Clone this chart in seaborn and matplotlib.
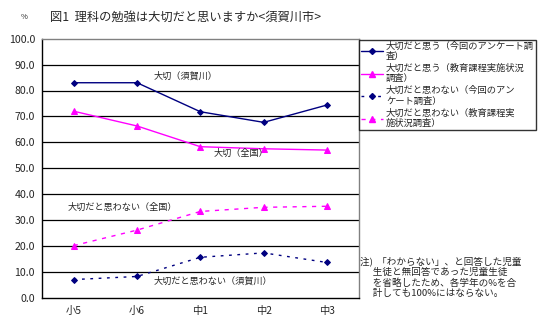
import matplotlib
matplotlib.use("Agg")
import matplotlib.pyplot as plt
import seaborn as sns
import pandas as pd
from matplotlib.lines import Line2D

sns.set_theme(style="white")
plt.rcParams['font.family'] = ['Noto Sans CJK JP', 'DejaVu Sans']

grades = ["小5", "小6", "中1", "中2", "中3"]
important_local = [83.0, 83.0, 71.8, 67.7, 74.4]
important_national = [72.0, 66.3, 58.3, 57.5, 57.0]
not_important_local = [7.0, 8.2, 15.6, 17.3, 13.6]
not_important_national = [20.1, 26.1, 33.3, 34.9, 35.3]

series_names = [
    "大切だと思う（今回のアンケート調\n査）",
    "大切だと思う（教育課程実施状況\n調査）",
    "大切だと思わない（今回のアン\nケート調査）",
    "大切だと思わない（教育課程実\n施状況調査）",
]
yticks = [0, 10, 20, 30, 40, 50, 60, 70, 80, 90, 100]

navy = "#000080"
pink = "#FF00FF"

fig = plt.figure(figsize=(5.46, 3.28), dpi=100)
ax = fig.add_axes([42 / 546, 1 - 297.7 / 328, (358.7 - 42) / 546, (297.7 - 38.7) / 328])

styles = [
    (important_local, navy, "D", (None, None), 3.0),
    (important_national, pink, "^", (None, None), 4.5),
    (not_important_local, navy, "D", (2, 4), 3.0),
    (not_important_national, pink, "^", (3, 4), 4.5),
]
handles = []
for vals, color, marker, dash, ms in styles:
    df = pd.DataFrame({"grade": grades, "value": vals})
    sns.lineplot(data=df, x="grade", y="value", ax=ax, color=color, marker=marker,
                 markersize=ms, markeredgecolor=color, linewidth=1.0, sort=False)
    line = ax.lines[-1]
    if dash != (None, None):
        line.set_dashes(dash)
    h = Line2D([0], [0], color=color, marker=marker, markersize=ms,
               markeredgecolor=color, linewidth=1.0, markevery=[1])
    h.set_xdata([0, 0.5, 1])
    h.set_ydata([0, 0, 0])
    if dash != (None, None):
        h.set_dashes(dash)
    handles.append(h)

ax.set_xlim(-0.5, 4.5)
ax.set_ylim(0, 100)
ax.set_yticks(yticks)
ax.set_yticklabels([f"{v:.1f}" for v in yticks], fontsize=7.6)
ax.set_xticks(range(len(grades)))
ax.set_xticklabels(grades, fontsize=7.4)
ax.set_xlabel("")
ax.set_ylabel("")
ax.set_xticks([0.5, 1.5, 2.5, 3.5], minor=True)
ax.tick_params(axis="x", which="major", length=0, pad=6)
ax.tick_params(axis="x", which="minor", direction="in", length=3, width=0.8, color="black")
ax.tick_params(axis="y", length=0, pad=5)
for v in yticks[1:-1]:
    ax.axhline(v, color="black", linewidth=0.9, zorder=0)
ax.spines["left"].set_color("black")
ax.spines["bottom"].set_color("black")
ax.spines["top"].set_color("#808080")
ax.spines["right"].set_color("#808080")
for s in ax.spines.values():
    s.set_linewidth(1.0)

fs = 6.6
ax.text(1.26, 85.6, "大切（須賀川）", fontsize=fs, ha="left", va="center")
ax.text(2.21, 55.6, "大切（全国）", fontsize=fs, ha="left", va="center")
ax.text(-0.1, 34.7, "大切だと思わない（全国）", fontsize=fs, ha="left", va="center")
ax.text(1.26, 6.3, "大切だと思わない（須賀川）", fontsize=fs, ha="left", va="center")

fig.text(21 / 546, 1 - 17 / 328, "%", fontsize=5.5, ha="left", va="center")
fig.text(50 / 546, 1 - 17 / 328, "図1  理科の勉強は大切だと思いますか<須賀川市>", fontsize=8.8,
         ha="left", va="center")

leg = fig.legend(handles, series_names, loc="upper left",
                 bbox_to_anchor=(359 / 546, 1 - 39.5 / 328), fontsize=6.7,
                 frameon=True, fancybox=False, edgecolor="black", handlelength=2.4,
                 handletextpad=0.3, borderpad=0.2, labelspacing=0.3,
                 borderaxespad=0)
leg.get_frame().set_linewidth(1.0)

note = ("注)  「わからない」、と回答した児童\n"
        "      生徒と無回答であった児童生徒\n"
        "      を省略したため、各学年の%を合\n"
        "      計しても100%にはならない。")
fig.text(360 / 546, 1 - 256 / 328, note, fontsize=6.9, ha="left", va="top", linespacing=1.22)

fig.savefig("out.png", dpi=100)
